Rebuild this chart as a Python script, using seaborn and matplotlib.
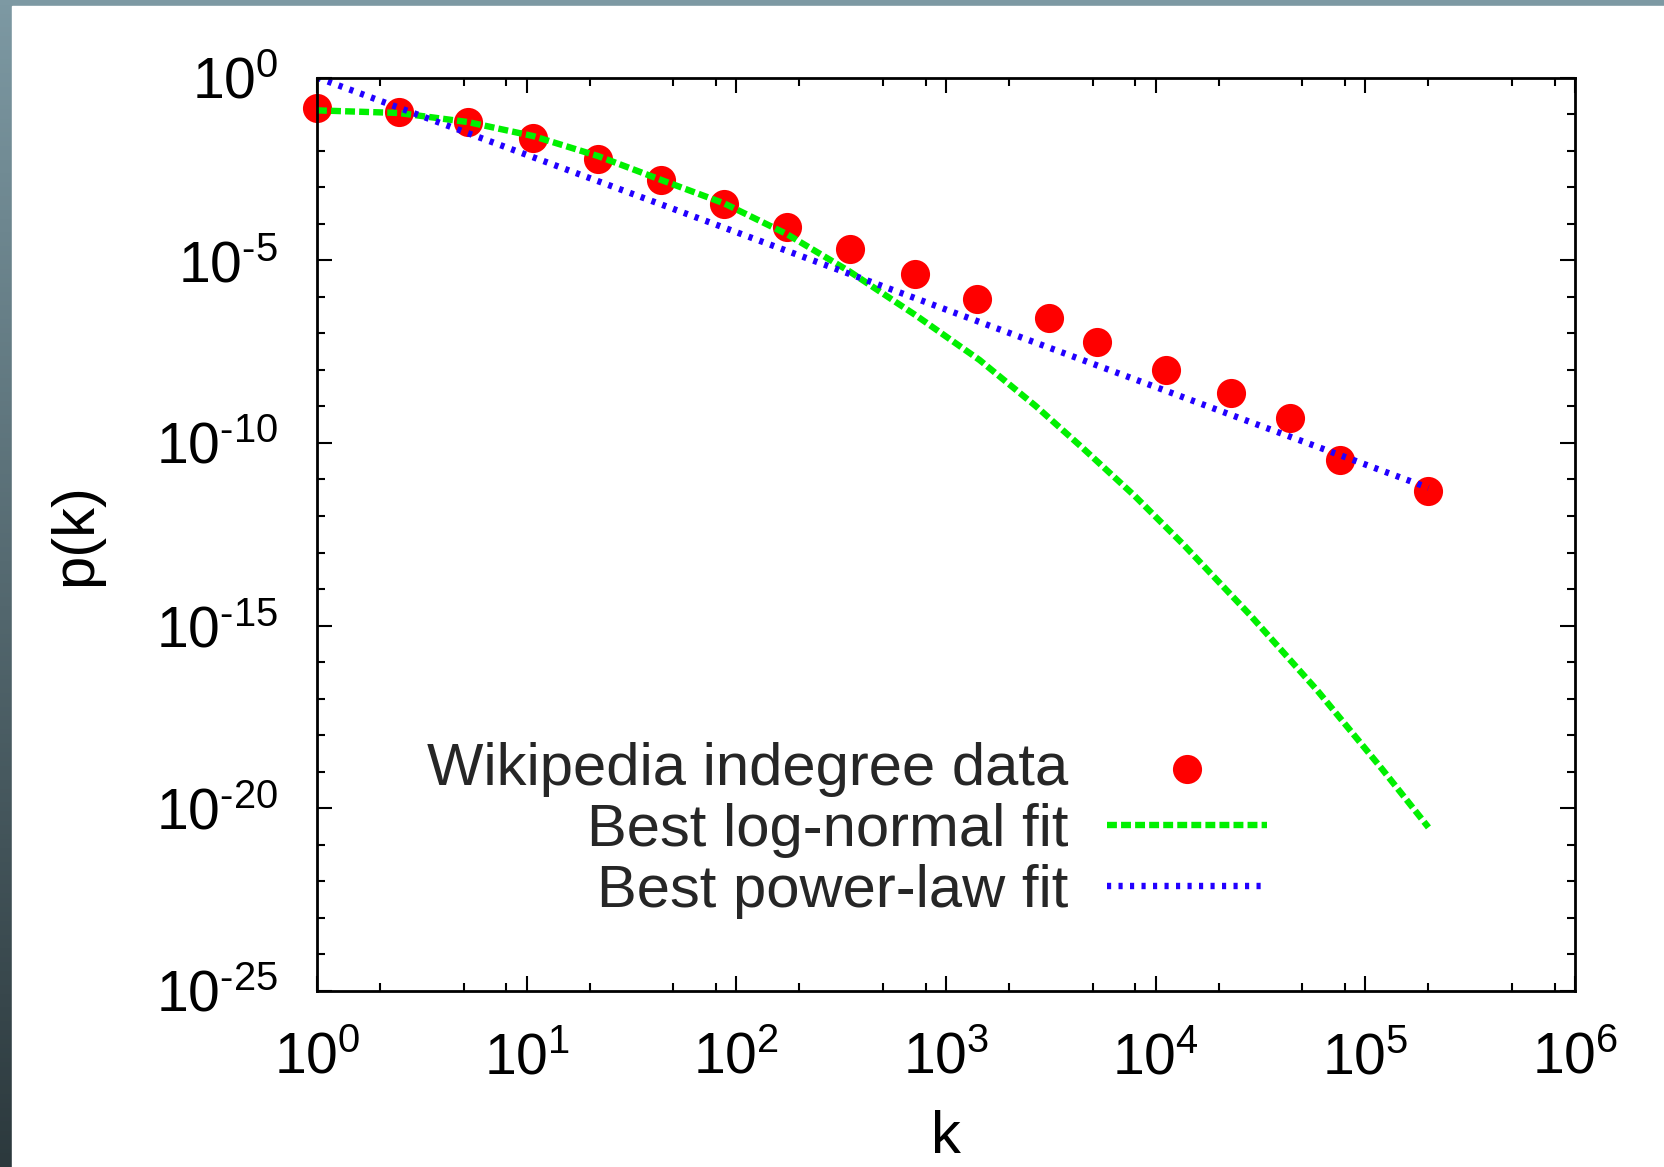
import numpy as np
import matplotlib
matplotlib.use('Agg')
import matplotlib.pyplot as plt
import matplotlib.ticker as mticker
from matplotlib.colors import LinearSegmentedColormap
from matplotlib.patches import Rectangle
import seaborn as sns

# values
k_data = [1, 2.45, 5.25, 10.7, 21.9, 43.7, 87.1, 174, 347, 708, 1410, 3090,
          5250, 11200, 22900, 43700, 75900, 200000]
p_data = [0.148, 0.112, 0.0617, 0.0219, 5.9e-3, 1.55e-3, 3.5e-4, 8.3e-5, 2.0e-5,
          4.2e-6, 8.7e-7, 2.6e-7, 5.9e-8, 1.0e-8, 2.3e-9, 4.7e-10, 3.5e-11, 4.7e-12]

k_lognorm = [1, 2.45, 5.25, 10.7, 21.9, 43.7, 87.1, 174, 347, 724, 1445, 2690,
             4470, 7940, 13500, 28200, 58900, 120000, 200000]
p_lognorm = [0.126, 0.107, 0.0603, 0.0251, 7.08e-3, 1.58e-3, 3.63e-4, 5.2e-5, 4.9e-6,
             3.0e-7, 1.86e-8, 1.0e-9, 7.4e-11, 3.55e-12, 1.7e-13, 1.95e-15, 1.7e-17,
             1.2e-19, 3.0e-21]

k_power = [1, 347, 200000]
p_power = [1, 4.2e-6, 5.9e-12]

xticks = [1e0, 1e1, 1e2, 1e3, 1e4, 1e5, 1e6]
xtick_labels = [r'$\mathregular{10^{0}}$', r'$\mathregular{10^{1}}$', r'$\mathregular{10^{2}}$',
                r'$\mathregular{10^{3}}$', r'$\mathregular{10^{4}}$', r'$\mathregular{10^{5}}$',
                r'$\mathregular{10^{6}}$']
yticks = [1e0, 1e-5, 1e-10, 1e-15, 1e-20, 1e-25]
ytick_labels = [r'$\mathregular{10^{0}}$', r'$\mathregular{10^{\text{-}5}}$',
                r'$\mathregular{10^{\text{-}10}}$', r'$\mathregular{10^{\text{-}15}}$',
                r'$\mathregular{10^{\text{-}20}}$', r'$\mathregular{10^{\text{-}25}}$']

sns.set_style('ticks')
plt.rcParams['font.family'] = ['Liberation Sans', 'DejaVu Sans']
plt.rcParams['mathtext.fontset'] = 'custom'
plt.rcParams['mathtext.rm'] = 'Liberation Sans'
plt.rcParams['mathtext.it'] = 'Liberation Sans:italic'
plt.rcParams['mathtext.bf'] = 'Liberation Sans:bold'

W, H = 1664, 1167
fig = plt.figure(figsize=(W / 100, H / 100), dpi=100)

# slide-like backdrop: dark gradient strip on left and top
bg = fig.add_axes([0, 0, 1, 1], zorder=-10)
grad = np.linspace(0, 1, 256).reshape(-1, 1)
cmap = LinearSegmentedColormap.from_list('bd', ['#7d99a3', '#2c393d'])
bg.imshow(grad, aspect='auto', cmap=cmap, extent=[0, 1, 0, 1], origin='upper')
bg.add_patch(Rectangle((12 / W, 0), 1, 1 - 6 / H, color='white', transform=bg.transAxes))
bg.set_xlim(0, 1)
bg.set_ylim(0, 1)
bg.set_axis_off()

ax = fig.add_axes([317 / W, 176 / H, 1258 / W, 913.5 / H])
ax.set_facecolor('white')
ax.set_xscale('log')
ax.set_yscale('log')

sns.scatterplot(x=k_data, y=p_data, ax=ax, color='#ff0000', s=440, linewidth=0,
                label='Wikipedia indegree data', legend=False, clip_on=False, zorder=1)
sns.lineplot(x=k_lognorm, y=p_lognorm, ax=ax, color='#00f000', linewidth=4.6,
             linestyle=(0, (1.55, 0.65)), label='Best log-normal fit', legend=False,
             estimator=None, sort=False, zorder=2)
sns.lineplot(x=k_power, y=p_power, ax=ax, color='#2200ff', linewidth=4.6,
             linestyle=(0, (0.65, 1.15)), label='Best power-law fit', legend=False,
             estimator=None, sort=False, zorder=2)

ax.set_xlim(1, 1e6)
ax.set_ylim(1e-25, 1)
ax.set_xticks(xticks, labels=xtick_labels)
ax.set_yticks(yticks, labels=ytick_labels)
ax.xaxis.set_minor_locator(mticker.LogLocator(base=10, subs=(2, 5, 8), numticks=100))
ax.yaxis.set_minor_locator(mticker.LogLocator(base=10, subs=(1.0,), numticks=100))
ax.xaxis.set_minor_formatter(mticker.NullFormatter())
ax.yaxis.set_minor_formatter(mticker.NullFormatter())

ax.tick_params(which='both', direction='in', top=True, right=True, color='black',
               width=1.5, labelsize=41, labelcolor='black')
ax.tick_params(which='major', length=10.8)
ax.tick_params(which='minor', length=5.8)
ax.tick_params(axis='y', which='major', pad=28)
ax.tick_params(axis='x', which='major', pad=29)

for s in ax.spines.values():
    s.set_visible(True)
    s.set_color('black')
    s.set_linewidth(2.0)

ax.set_xlabel('k', fontsize=43, color='black')
ax.set_ylabel('p(k)', fontsize=43, color='black')
ax.xaxis.set_label_coords(0.5, -0.130)
ax.yaxis.set_label_coords(-0.170, 0.5)

handles, labels = ax.get_legend_handles_labels()
ax.legend(handles, labels, loc='center right', bbox_to_anchor=(0.755, 0.176),
          markerfirst=False, frameon=False, fontsize=43, handlelength=2.68,
          handletextpad=0.64, labelspacing=0.1, borderpad=0, borderaxespad=0,
          scatterpoints=1)

fig.savefig('out.png', dpi=100)
